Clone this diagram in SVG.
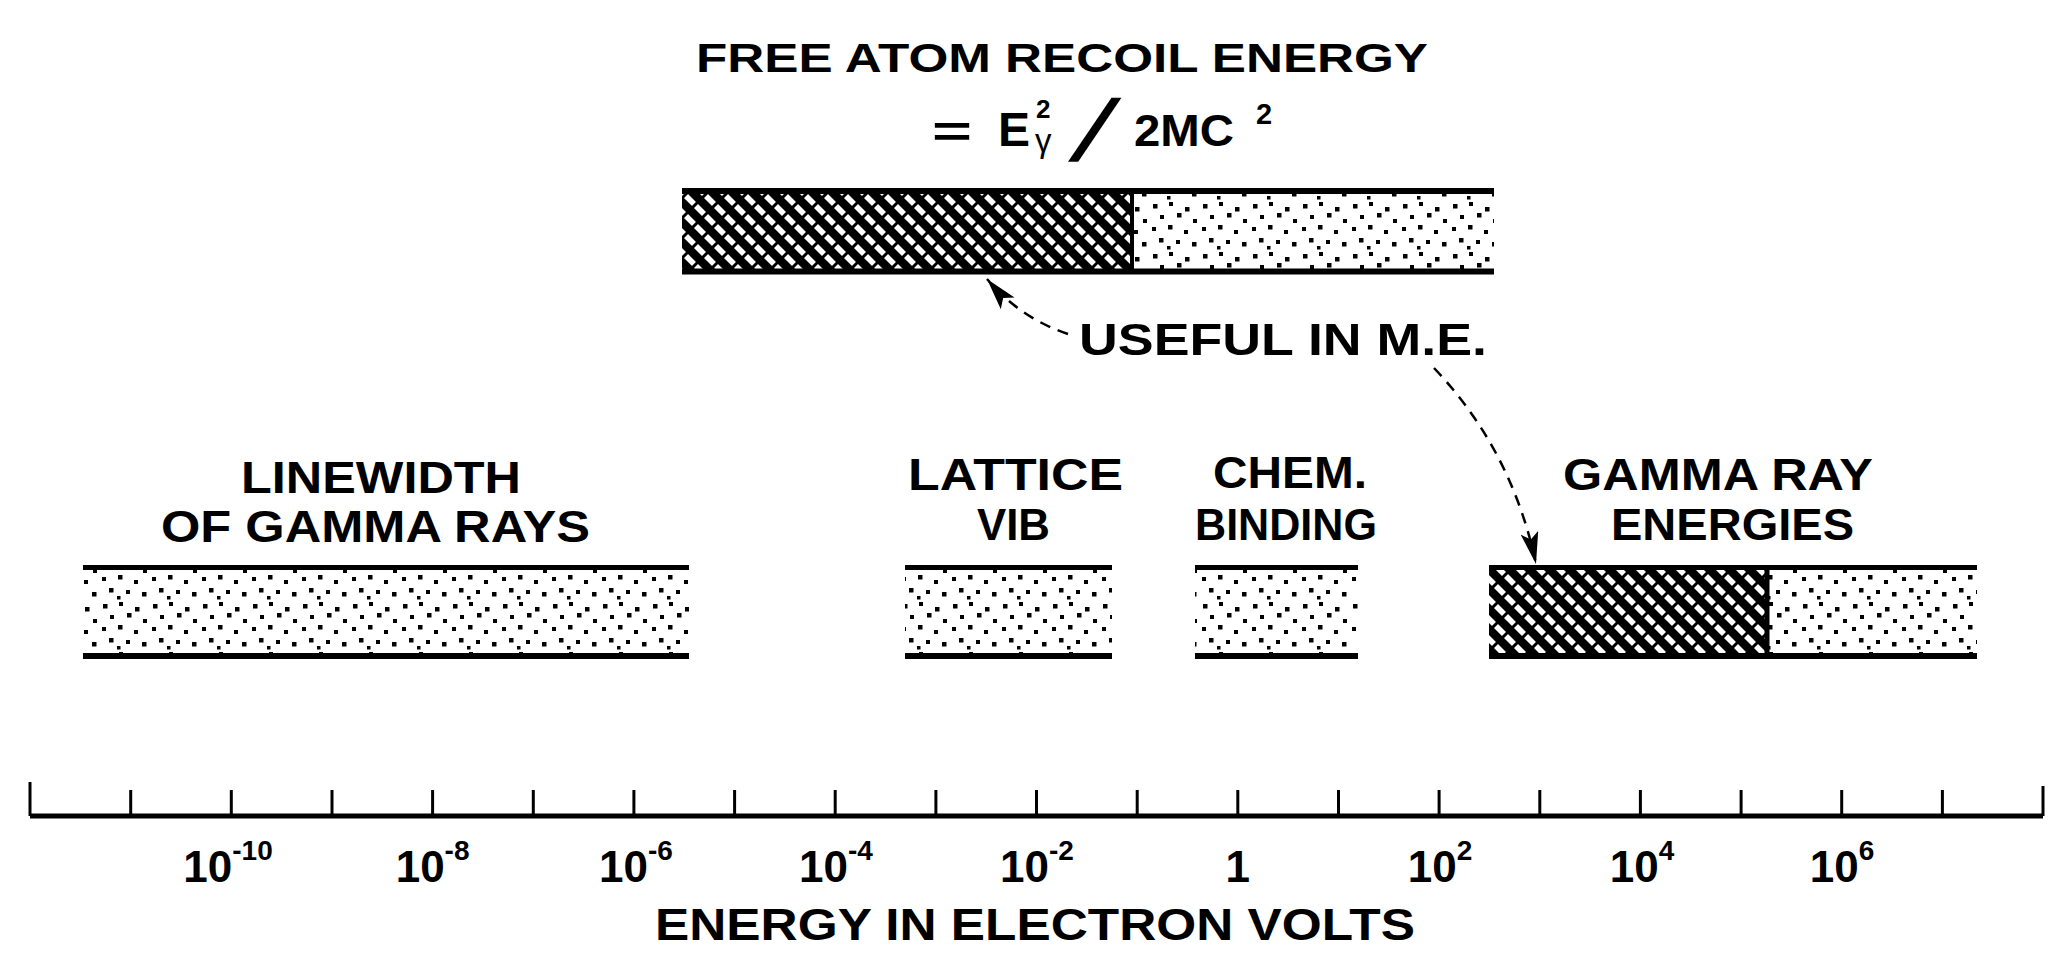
<svg xmlns="http://www.w3.org/2000/svg" width="2065" height="971" viewBox="0 0 2065 971">
<defs>
<style>
text{font-family:"Liberation Sans",Arial,sans-serif;font-weight:bold;fill:#000}
.lbl{font-size:44px}
.sup{font-size:28px}
.rule{stroke:#000;stroke-linecap:butt}
.top{stroke-width:6}
.bot{stroke-width:6}
.tick{stroke:#000;stroke-width:3}
.conn{fill:none;stroke:#000;stroke-width:2.5;stroke-dasharray:11 8}
</style>
<pattern id="dots" width="50" height="50" patternUnits="userSpaceOnUse">
<rect width="50" height="50" fill="#fff"/>
<g fill="#000">
<rect x="3" y="4" width="4.5" height="4.5"/><rect x="19" y="2" width="4" height="4"/><rect x="35" y="7" width="4.5" height="4.5"/>
<rect x="10" y="15" width="4" height="4"/><rect x="27" y="13" width="4.5" height="4.5"/><rect x="43" y="19" width="4" height="4"/>
<rect x="2" y="27" width="4" height="4"/><rect x="18" y="25" width="4.5" height="4.5"/><rect x="34" y="30" width="4" height="4"/>
<rect x="9" y="38" width="4.5" height="4.5"/><rect x="26" y="40" width="4" height="4"/><rect x="42" y="42" width="4.5" height="4.5"/>
<rect x="17" y="46" width="3.5" height="3.5"/>
</g>
</pattern>
<pattern id="hatch" width="20" height="20" patternUnits="userSpaceOnUse">
<rect width="20" height="20" fill="#fff"/>
<path d="M-5,15 L5,25 M0,0 L20,20 M15,-5 L25,5" stroke="#000" stroke-width="8.5"/>
<path d="M-5,5 L5,-5 M0,20 L20,0 M15,25 L25,15" stroke="#000" stroke-width="3"/>
</pattern>
<marker id="ah" markerUnits="userSpaceOnUse" markerWidth="34" markerHeight="20" refX="32" refY="9" orient="auto">
<path d="M0,0 L32,9 L0,18 L7,9 z" fill="#000"/>
</marker>
</defs>
<rect width="2065" height="971" fill="#fff"/>

<g id="recoil">
<text x="696" y="72" font-size="40" textLength="732" lengthAdjust="spacingAndGlyphs">FREE  ATOM  RECOIL ENERGY</text>
<text x="932" y="147" font-size="44" textLength="40" lengthAdjust="spacingAndGlyphs">=</text>
<text><tspan x="998" y="146" font-size="48">E</tspan><tspan x="1036" y="118" font-size="26">2</tspan><tspan x="1035" y="152" font-size="33" font-weight="normal">γ</tspan></text>
<text x="0" y="0" font-size="86" transform="translate(1068,160) skewX(-26)">/</text>
<text><tspan x="1134" y="146" font-size="44" textLength="100" lengthAdjust="spacingAndGlyphs">2MC</tspan><tspan x="1256" y="124" font-size="29">2</tspan></text>
<rect x="682" y="194" width="450" height="75" fill="url(#hatch)"/>
<rect x="1132" y="194" width="362" height="75" fill="url(#dots)"/>
<line class="rule top" x1="682" y1="191" x2="1494" y2="191"/>
<line class="rule bot" x1="682" y1="271.5" x2="1494" y2="271.5"/>
<line class="rule" x1="1132" y1="191" x2="1132" y2="272" stroke-width="4"/>
</g>

<g id="useful">
<text class="lbl" x="1079" y="355" textLength="408" lengthAdjust="spacingAndGlyphs">USEFUL  IN  M.E.</text>
</g>

<g id="linewidth">
<text class="lbl" x="241" y="493" textLength="280" lengthAdjust="spacingAndGlyphs">LINEWIDTH</text>
<text class="lbl" x="161" y="542" textLength="429" lengthAdjust="spacingAndGlyphs">OF  GAMMA  RAYS</text>
<rect x="83" y="569" width="606" height="85" fill="url(#dots)"/>
<line class="rule" x1="83" y1="567.5" x2="689" y2="567.5" stroke-width="5"/>
<line class="rule" x1="83" y1="656" x2="689" y2="656" stroke-width="6"/>
</g>

<g id="lattice">
<text class="lbl" x="908" y="490" textLength="215" lengthAdjust="spacingAndGlyphs">LATTICE</text>
<text class="lbl" x="977" y="540" textLength="73" lengthAdjust="spacingAndGlyphs">VIB</text>
<rect x="905" y="569" width="207" height="85" fill="url(#dots)"/>
<line class="rule" x1="905" y1="567.5" x2="1112" y2="567.5" stroke-width="5"/>
<line class="rule" x1="905" y1="656" x2="1112" y2="656" stroke-width="6"/>
</g>

<g id="chem">
<text class="lbl" x="1213" y="488" textLength="154" lengthAdjust="spacingAndGlyphs">CHEM.</text>
<text class="lbl" x="1195" y="540" textLength="182" lengthAdjust="spacingAndGlyphs">BINDING</text>
<rect x="1195" y="569" width="163" height="85" fill="url(#dots)"/>
<line class="rule" x1="1195" y1="567.5" x2="1358" y2="567.5" stroke-width="5"/>
<line class="rule" x1="1195" y1="656" x2="1358" y2="656" stroke-width="6"/>
</g>

<g id="gamma">
<text class="lbl" x="1563" y="490" textLength="310" lengthAdjust="spacingAndGlyphs">GAMMA  RAY</text>
<text class="lbl" x="1611" y="540" textLength="243" lengthAdjust="spacingAndGlyphs">ENERGIES</text>
<rect x="1489" y="569" width="278" height="85" fill="url(#hatch)"/>
<rect x="1767" y="569" width="210" height="85" fill="url(#dots)"/>
<line class="rule" x1="1489" y1="567.5" x2="1977" y2="567.5" stroke-width="5"/>
<line class="rule" x1="1489" y1="656" x2="1977" y2="656" stroke-width="6"/>
<line class="rule" x1="1767" y1="567" x2="1767" y2="657" stroke-width="5"/>
</g>

<g id="connectors">
<path class="conn" d="M1068,334 Q1020,318 987,279" marker-end="url(#ah)"/>
<path class="conn" d="M1434,368 Q1512,450 1536,564" marker-end="url(#ah)"/>
</g>

<g id="axis">
<line class="rule" x1="30" y1="816" x2="2043" y2="816" stroke-width="5"/>
<g class="tick">
<line x1="30" y1="782" x2="30" y2="816"/>
<line x1="130.7" y1="790" x2="130.7" y2="816"/>
<line x1="231.3" y1="790" x2="231.3" y2="816"/>
<line x1="332" y1="790" x2="332" y2="816"/>
<line x1="432.6" y1="790" x2="432.6" y2="816"/>
<line x1="533.3" y1="790" x2="533.3" y2="816"/>
<line x1="633.9" y1="790" x2="633.9" y2="816"/>
<line x1="734.6" y1="790" x2="734.6" y2="816"/>
<line x1="835.2" y1="790" x2="835.2" y2="816"/>
<line x1="935.9" y1="790" x2="935.9" y2="816"/>
<line x1="1036.5" y1="790" x2="1036.5" y2="816"/>
<line x1="1137.2" y1="790" x2="1137.2" y2="816"/>
<line x1="1237.8" y1="790" x2="1237.8" y2="816"/>
<line x1="1338.5" y1="790" x2="1338.5" y2="816"/>
<line x1="1439.1" y1="790" x2="1439.1" y2="816"/>
<line x1="1539.8" y1="790" x2="1539.8" y2="816"/>
<line x1="1640.4" y1="790" x2="1640.4" y2="816"/>
<line x1="1741.1" y1="790" x2="1741.1" y2="816"/>
<line x1="1841.7" y1="790" x2="1841.7" y2="816"/>
<line x1="1942.4" y1="790" x2="1942.4" y2="816"/>
<line x1="2043" y1="786" x2="2043" y2="816"/>
</g>
<g text-anchor="middle">
<text class="lbl" x="228" y="882">10<tspan class="sup" dy="-22">-10</tspan></text>
<text class="lbl" x="432.6" y="882">10<tspan class="sup" dy="-22">-8</tspan></text>
<text class="lbl" x="636" y="882">10<tspan class="sup" dy="-22">-6</tspan></text>
<text class="lbl" x="836" y="882">10<tspan class="sup" dy="-22">-4</tspan></text>
<text class="lbl" x="1037" y="882">10<tspan class="sup" dy="-22">-2</tspan></text>
<text class="lbl" x="1237.8" y="882">1</text>
<text class="lbl" x="1440" y="882">10<tspan class="sup" dy="-22">2</tspan></text>
<text class="lbl" x="1642" y="882">10<tspan class="sup" dy="-22">4</tspan></text>
<text class="lbl" x="1842" y="882">10<tspan class="sup" dy="-22">6</tspan></text>
</g>
<text class="lbl" x="655" y="940" textLength="760" lengthAdjust="spacingAndGlyphs">ENERGY  IN  ELECTRON  VOLTS</text>
</g>
</svg>
